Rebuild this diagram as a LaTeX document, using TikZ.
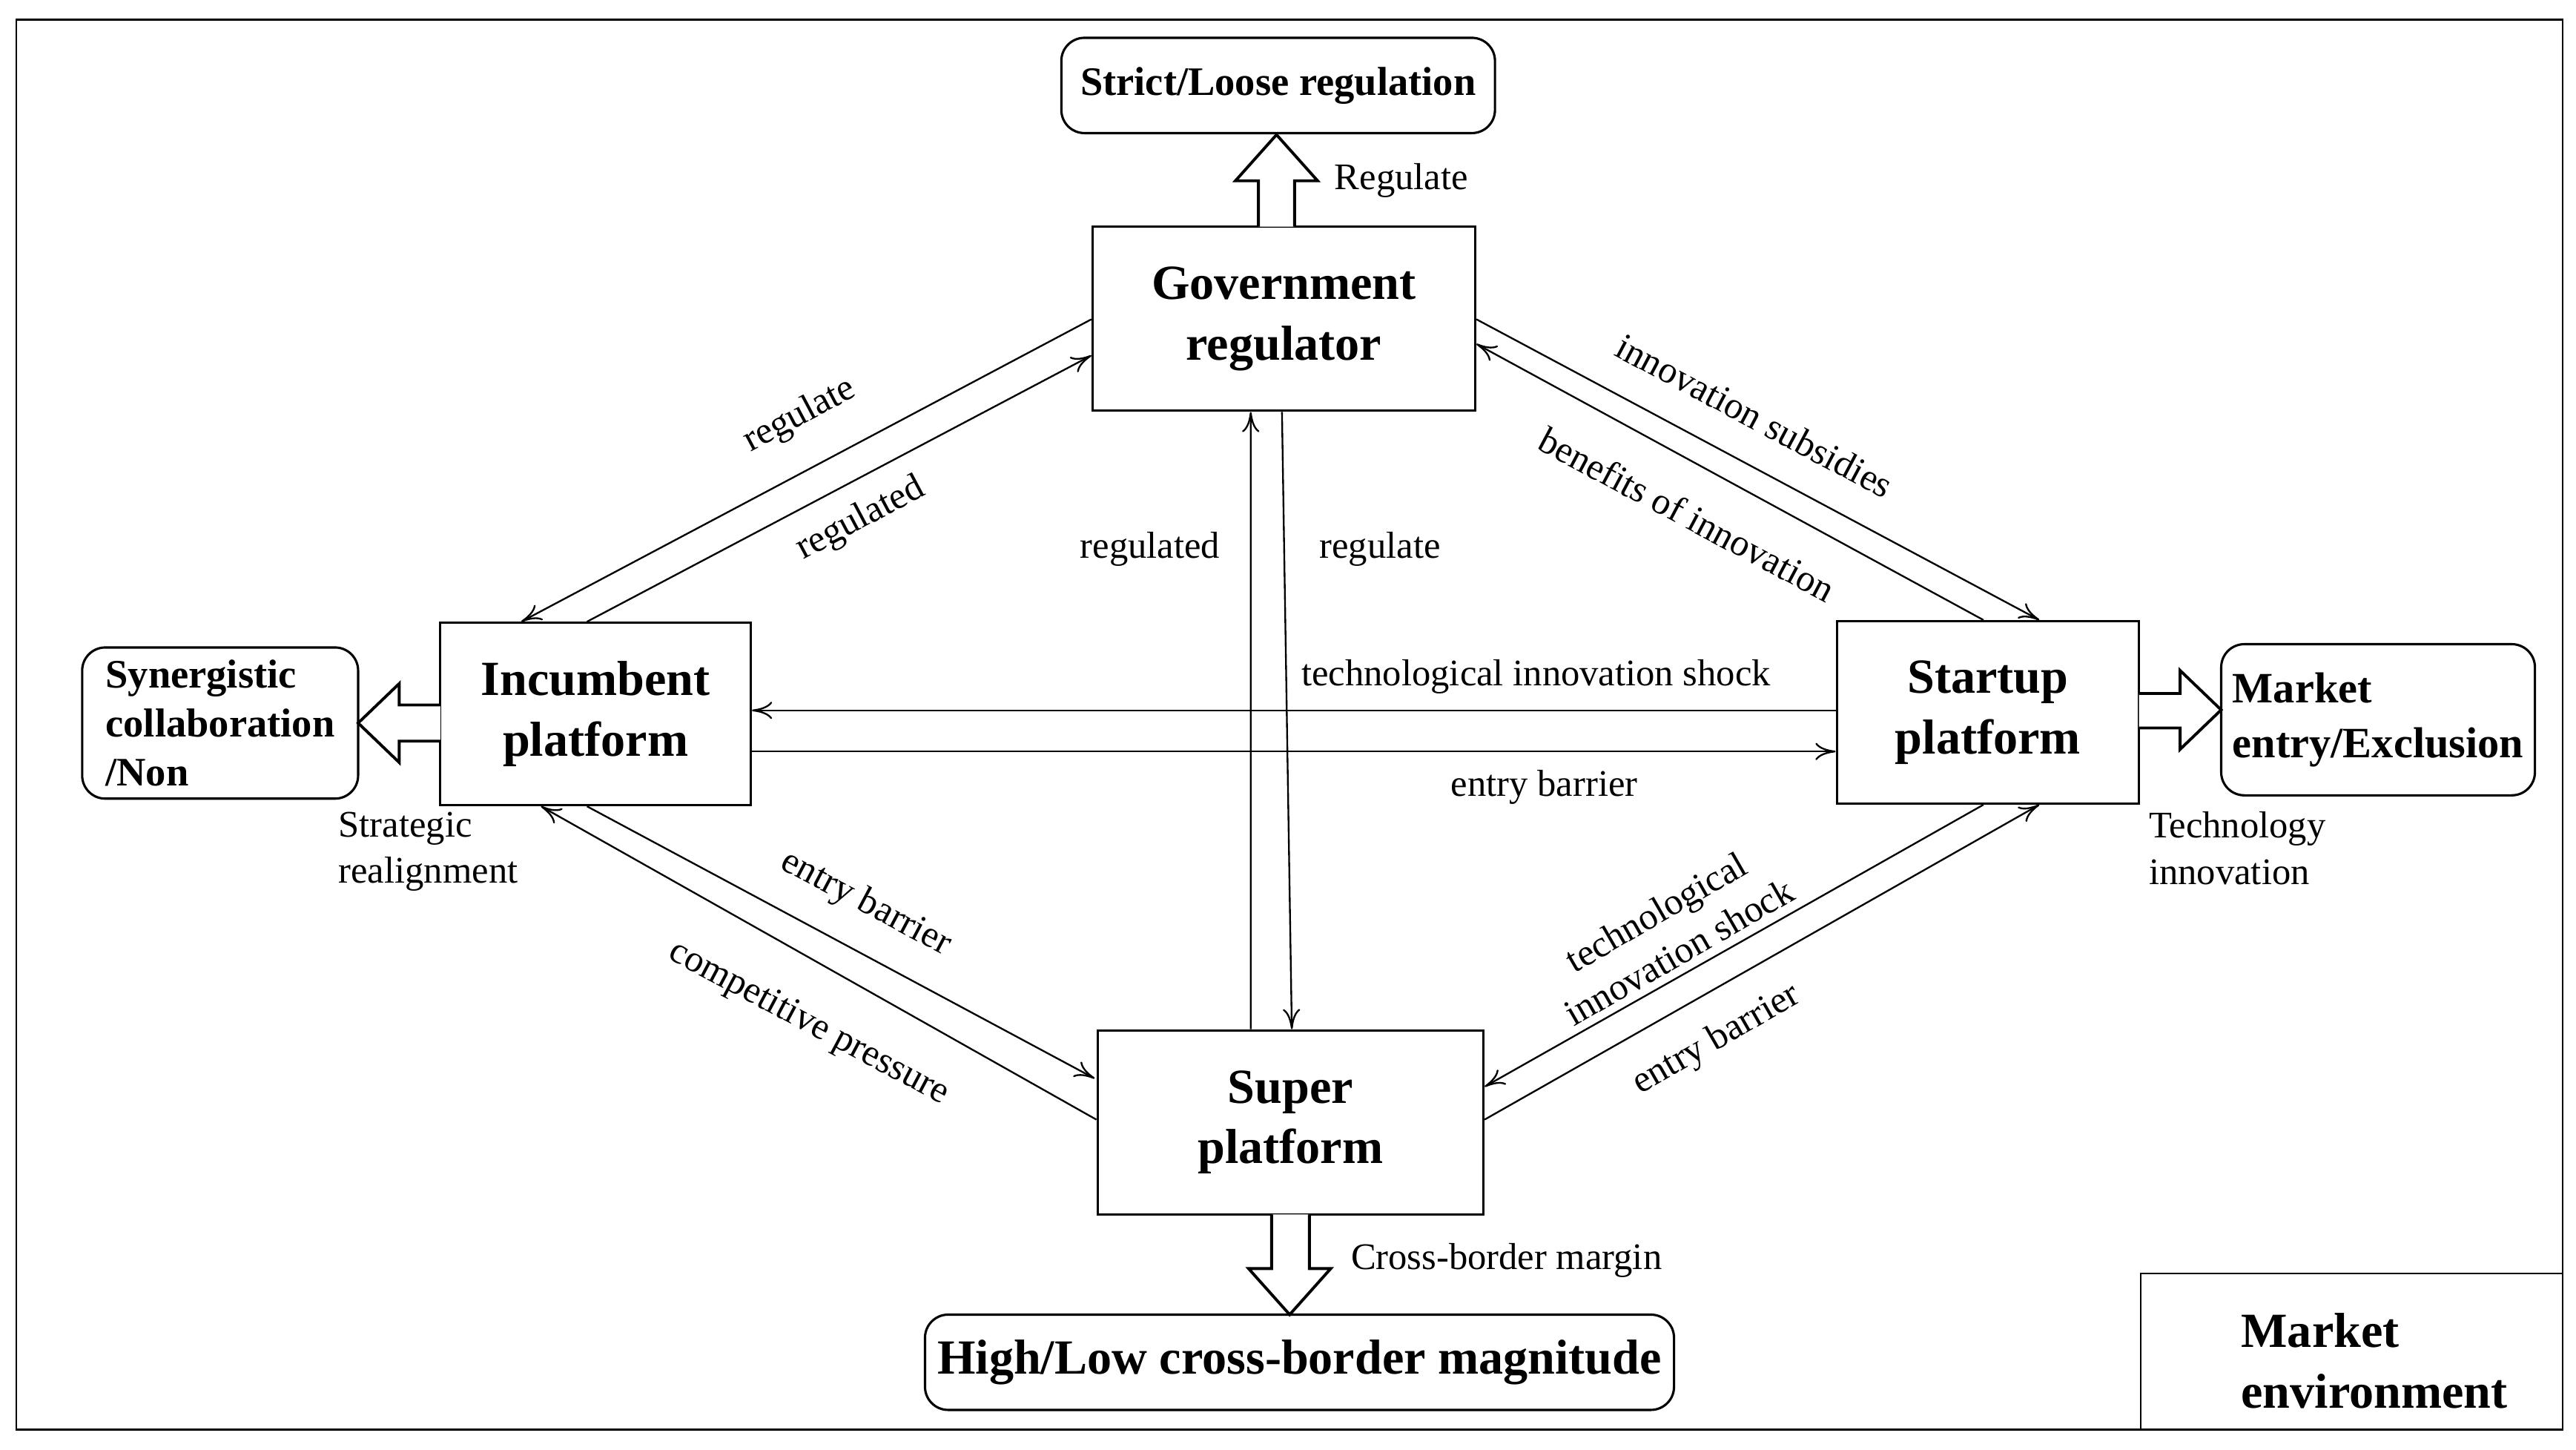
\documentclass[tikz,border=0pt]{standalone}
\usepackage{fontspec}
\setmainfont{Liberation Serif}
\usetikzlibrary{calc,arrows.meta}
\begin{document}
\begin{tikzpicture}[x=0.02cm,y=-0.02cm,
 box/.style={draw,thick,minimum width=#1,align=center,inner sep=0pt,font=\fontsize{17}{21}\selectfont\bfseries},
 rbox/.style={draw,thick,rounded corners=8pt,align=center,inner sep=0pt},
 con/.style={-{To[length=7pt,width=6pt]},line width=0.6pt},
 lab/.style={font=\fontsize{13}{16}\selectfont,inner sep=1pt},
 fat/.style={draw,line width=1pt,fill=white}]
\useasboundingbox (0,0) rectangle (1568,882);
\draw[line width=0.6pt] (10,12) rectangle (1560,870);
\draw[line width=0.6pt] (1303,870) -- (1303,775) -- (1560,775);
\node[font=\fontsize{17}{21}\selectfont\bfseries,align=left,anchor=west] (env) at (1358,828) {Market\\environment};

\node[box,minimum width=4.66cm,minimum height=2.24cm] (gov) at (781.5,194) {Government\\regulator};
\node[box,minimum width=3.78cm,minimum height=2.22cm] (inc) at (362.5,434.5) {Incumbent\\platform};
\node[box,minimum width=3.68cm,minimum height=2.22cm] (st) at (1210,433.5) {Startup\\platform};
\node[box,minimum width=4.7cm,minimum height=2.24cm] (sup) at (785.5,683) {Super\\platform};
\node[rbox,minimum width=5.28cm,minimum height=1.16cm,font=\fontsize{14}{17}\selectfont\bfseries] (strict) at (778,52) {Strict/Loose regulation};
\node[rbox,minimum width=3.36cm,minimum height=1.84cm,font=\fontsize{14}{17}\selectfont\bfseries,align=left] (syn) at (134,440) {Synergistic\\collaboration\\/Non};
\node[rbox,minimum width=3.82cm,minimum height=1.84cm,font=\fontsize{15}{19}\selectfont\bfseries,align=left] (mkt) at (1447.5,438) {Market\\entry/Exclusion};
\node[rbox,minimum width=9.12cm,minimum height=1.16cm,font=\fontsize{17}{21}\selectfont\bfseries] (hl) at (791,829) {High/Low cross-border magnitude};

% block arrows
\draw[fat] (766,138) -- (766,110) -- (752,110) -- (777,82) -- (802,110) -- (788,110) -- (788,138);
\draw[fat] (268,429) -- (243,429) -- (243,416) -- (218,440) -- (243,464) -- (243,451) -- (268,451);
\draw[fat] (1302,422) -- (1327,422) -- (1327,408) -- (1352,432) -- (1327,456) -- (1327,443) -- (1302,443);
\draw[fat] (774,739) -- (774,772) -- (760,772) -- (785,800) -- (810,772) -- (797,772) -- (797,739);

% connectors
\draw[con] ($(gov.north west)+(0,57)$) -- ($(inc.north west)+(50,0)$);
\draw[con] ($(inc.north west)+(90,0)$) -- ($(gov.north west)+(0,79)$);
\draw[con] ($(gov.north east)+(0,57)$) -- ($(st.north west)+(124,0)$);
\draw[con] ($(st.north west)+(90,0)$) -- ($(gov.north east)+(0,72)$);
\draw[con] ($(sup.north west)+(94,0)$) -- ($(gov.south west)+(97,0)$);
\draw[con] ($(gov.south west)+(116,0)$) -- ($(sup.north west)+(119,0)$);
\draw[con] ($(st.north west)+(0,55)$) -- ($(inc.north east)+(0,54)$);
\draw[con] ($(inc.north east)+(0,79)$) -- ($(st.north west)+(0,80)$);
\draw[con] ($(inc.south west)+(90,0)$) -- ($(sup.north west)+(-1,30)$);
\draw[con] ($(sup.north west)+(0,55)$) -- ($(inc.south west)+(62,0)$);
\draw[con] ($(st.south west)+(90,0)$) -- ($(sup.north east)+(0,35)$);
\draw[con] ($(sup.north east)+(0,55)$) -- ($(st.south west)+(124,0)$);

% labels
\node[lab] (l1) at (853,110) {Regulate};
\node[lab,rotate=28] (l2) at (487,253) {regulate};
\node[lab,rotate=28] (l3) at (524,316) {regulated};
\node[lab,rotate=-28] (l4) at (1068,253) {innovation subsidies};
\node[lab,rotate=-28] (l5) at (1027,313) {benefits of innovation};
\node[lab] (l6) at (700,334) {regulated};
\node[lab] (l7) at (840,334) {regulate};
\node[lab] (l8) at (935,412) {technological innovation shock};
\node[lab] (l9) at (940,479) {entry barrier};
\node[lab,rotate=-28] (l10) at (527,550) {entry barrier};
\node[lab,rotate=-28] (l11) at (492,623) {competitive pressure};
\node[lab,rotate=30,align=center] (l12) at (1015,567) {technological\\innovation shock};
\node[lab,rotate=30] (l13) at (1045,633) {entry barrier};
\node[lab,align=left,anchor=north west] (l14) at (204,492) {Strategic\\realignment};
\node[lab,align=left,anchor=north west] (l15) at (1306,492) {Technology\\innovation};
\node[lab] (l16) at (917,767) {Cross-border margin};
\end{tikzpicture}
\end{document}
